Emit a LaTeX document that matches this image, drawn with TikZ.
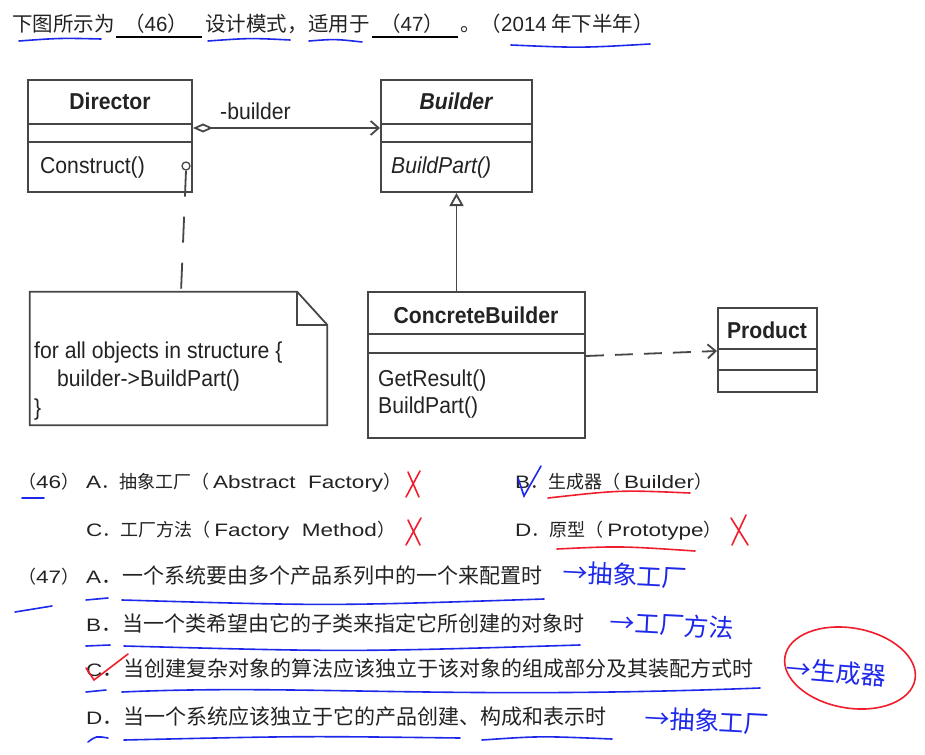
\documentclass[tikz,border=0pt]{standalone}
\usepackage{fontspec}
\setmainfont{Liberation Sans}
\newfontfamily\cjk{Noto Sans CJK SC}
\newfontfamily\umlfont[FakeStretch=0.92]{Liberation Sans}
\newfontfamily\optlat[FakeStretch=1.25]{Liberation Sans}
\definecolor{linegray}{RGB}{70,70,70}
\definecolor{txtgray}{RGB}{35,35,35}
\definecolor{penblue}{RGB}{30,40,235}
\definecolor{penred}{RGB}{240,30,45}
\newcommand{\zh}[1]{{\cjk #1}}
\newcommand{\zhbig}[1]{{\cjk\fontsize{21}{25}\selectfont #1}}
\usetikzlibrary{arrows.meta,positioning,calc}

\begin{document}
\begin{tikzpicture}[x=1pt,y=-1pt,
  uml_box/.style={draw=linegray, line width=2pt, fill=white, inner sep=0pt},
  uml_name/.style={font=\umlfont\fontsize{23}{27}\selectfont\bfseries, text=txtgray, anchor=base, inner sep=0pt},
  uml_op/.style={font=\umlfont\fontsize{23}{27}\selectfont, text=txtgray, anchor=base west, inner sep=0pt},
  uml_line/.style={draw=linegray, line width=1.8pt},
  title_txt/.style={font=\cjk\fontsize{20.5}{24}\selectfont, text=txtgray, anchor=base west, inner sep=0pt},
  opt_txt/.style={font=\optlat\fontsize{18}{21}\selectfont, text=txtgray, anchor=base west, inner sep=0pt},
  hand_txt/.style={font=\cjk\fontsize{25}{28}\selectfont, text=penblue, inner sep=0pt},
  pen_blue/.style={draw=penblue, line width=1.6pt, line cap=round},
  pen_red/.style={draw=penred, line width=1.6pt, line cap=round}
]
  \fill[white] (0,0) rectangle (925,754);
  \useasboundingbox (0,0) rectangle (925,754);

  %% question line
  \node[title_txt] (t_a) at (12,32) {下图所示为};
  \node[title_txt] (t_b) at (124,32) {（{\fontspec{Liberation Sans}46}）};
  \node[title_txt] (t_c) at (205,32) {设计模式，};
  \node[title_txt] (t_d) at (308,32) {适用于};
  \node[title_txt] (t_e) at (380,32) {（{\fontspec{Liberation Sans}47}）};
  \node[title_txt] (t_f) at (460,32) {。（{\fontspec{Liberation Sans}2014} 年下半年）};
  \draw[black, line width=2pt] (116,37) -- (202,37);
  \draw[black, line width=2pt] (372,37) -- (458,37);

  %% UML boxes
  \node[uml_box, minimum width=164pt, minimum height=112pt] (director) at (110,136) {};
  \node[uml_box, minimum width=151pt, minimum height=112pt] (builder) at (456.5,136) {};
  \node[uml_box, minimum width=217pt, minimum height=146pt] (concrete) at (476.5,365) {};
  \node[uml_box, minimum width=99pt, minimum height=84pt] (product) at (767.5,350) {};

  \draw[uml_line] ([yshift=-45pt]director.north west) -- ([yshift=-45pt]director.north east);
  \draw[uml_line] ([yshift=-63pt]director.north west) -- ([yshift=-63pt]director.north east);
  \draw[uml_line] ([yshift=-45pt]builder.north west) -- ([yshift=-45pt]builder.north east);
  \draw[uml_line] ([yshift=-63pt]builder.north west) -- ([yshift=-63pt]builder.north east);
  \draw[uml_line] ([yshift=-43pt]concrete.north west) -- ([yshift=-43pt]concrete.north east);
  \draw[uml_line] ([yshift=-62pt]concrete.north west) -- ([yshift=-62pt]concrete.north east);
  \draw[uml_line] ([yshift=-42pt]product.north west) -- ([yshift=-42pt]product.north east);
  \draw[uml_line] ([yshift=-63pt]product.north west) -- ([yshift=-63pt]product.north east);

  \node[uml_name] (director_name) at (110,110) {Director};
  \node[uml_op] (director_op) at (40,173) {Construct()};
  \node[uml_name] (builder_name) at (456,110) {\itshape Builder};
  \node[uml_op] (builder_op) at (391,173) {\itshape BuildPart()};
  \node[uml_name] (concrete_name) at (476,323) {ConcreteBuilder};
  \node[uml_op] (concrete_op1) at (378,386) {GetResult()};
  \node[uml_op] (concrete_op2) at (378,413) {BuildPart()};
  \node[uml_name] (product_name) at (767,338) {Product};

  %% note
  \node[minimum width=297pt, minimum height=133pt, inner sep=0pt] (note) at (178.5,358.5) {};
  \draw[uml_line, fill=white] (note.south west) -- (note.north west) -- ([xshift=-30pt]note.north east)
    -- ([yshift=-33pt]note.north east) -- (note.south east) -- cycle;
  \draw[uml_line] ([xshift=-30pt]note.north east) |- ([yshift=-33pt]note.north east);
  \node[uml_op] (note_l1) at (34,358) {for all objects in structure \{};
  \node[uml_op] (note_l2) at (57,386) {builder->BuildPart()};
  \node[uml_op] (note_l3) at (34,415) {\}};

  %% connectors
  \draw[uml_line, {Diamond[open,length=20pt,width=9pt]}-{Straight Barb[length=8pt,width=14pt]}]
    ([yshift=-49pt]director.north east) -- ([yshift=-49pt]builder.north west);
  \node[uml_op] (agg_label) at (220,120) {-builder};
  \draw[uml_line, -{Triangle[open,length=13pt,width=14pt]}] (builder.south |- concrete.north) -- (builder.south);
  \draw[uml_line, dash pattern=on 18pt off 11pt, -{Straight Barb[length=8pt,width=14pt]}]
    ([yshift=-65pt]concrete.north east) -- ([yshift=-44pt]product.north west);
  \node[circle, draw=linegray, line width=1.3pt, minimum size=8pt, inner sep=0pt] (note_pin) at (186,166) {};
  \draw[uml_line, dash pattern=on 26pt off 20pt] (note_pin.south) -- (note.north -| 181,0);

  %% options (46)
  \node[opt_txt] (q46) at (18,488) {\zh{（}46\zh{）}};
  \node[opt_txt] (q46_a) at (86,488) {A\zh{．抽象工厂（}\hspace{4pt}Abstract\ \ Factory\zh{）}};
  \node[opt_txt] (q46_b) at (515,488) {B\zh{．生成器（}\hspace{4pt}Builder\zh{）}};
  \node[opt_txt] (q46_c) at (86,536) {C\zh{．工厂方法（}\hspace{4pt}Factory\ \ Method\zh{）}};
  \node[opt_txt] (q46_d) at (515,536) {D\zh{．原型（}\hspace{4pt}Prototype\zh{）}};

  %% options (47)
  \node[opt_txt] (q47) at (18,583) {\zh{（}47\zh{）}};
  \node[opt_txt] (q47_a) at (86,583) {A\zhbig{．一个系统要由多个产品系列中的一个来配置时}};
  \node[opt_txt] (q47_b) at (86,631) {B\zhbig{．当一个类希望由它的子类来指定它所创建的对象时}};
  \node[opt_txt] (q47_c) at (86,676) {C\zhbig{．当创建复杂对象的算法应该独立于该对象的组成部分及其装配方式时}};
  \node[opt_txt] (q47_d) at (86,724) {D\zhbig{．当一个系统应该独立于它的产品创建、构成和表示时}};

  %% handwritten notes
  \node[hand_txt, rotate=-3] (h_a) at (625,575) {→抽象工厂};
  \node[hand_txt, rotate=-3] (h_b) at (672,625) {→工厂方法};
  \node[hand_txt, rotate=-5] (h_c) at (836,672) {→生成器};
  \node[hand_txt, rotate=-3] (h_d) at (707,721) {→抽象工厂};
  \draw[pen_red, rotate around={-10:(850,668)}] (850,668) ellipse [x radius=66, y radius=40];

  %% blue underlines
  \draw[pen_blue] (19,41) .. controls (60,38) .. (101,39);
  \draw[pen_blue] (208,41) .. controls (250,38) .. (290,40);
  \draw[pen_blue] (309,41) .. controls (335,39) .. (362,42);
  \draw[pen_blue] (511,45) .. controls (580,48) .. (650,44);
  \draw[pen_blue] (22,498) -- (44,498);
  \draw[pen_blue] (86,600) -- (108,598);
  \draw[pen_blue] (122,600) .. controls (330,606) .. (544,599);
  \draw[pen_blue] (15,612) -- (52,606);
  \draw[pen_blue] (86,646) -- (110,645);
  \draw[pen_blue] (124,646) .. controls (350,652) .. (580,645);
  \draw[pen_blue] (86,692) -- (106,690);
  \draw[pen_blue] (122,692) .. controls (300,684) and (450,700) .. (760,688);
  \draw[pen_blue] (88,742) .. controls (96,736) .. (108,738);
  \draw[pen_blue] (124,740) .. controls (300,736) .. (460,738);
  \draw[pen_blue] (482,740) .. controls (540,736) .. (612,739);
  \draw[pen_blue] (518,478) -- (524,496) -- (541,466);

  %% red marks
  \draw[pen_red] (408,472) -- (419,497);
  \draw[pen_red] (420,471) -- (406,497);
  \draw[pen_red] (408,520) -- (420,545);
  \draw[pen_red] (421,518) -- (406,545);
  \draw[pen_red] (731,518) -- (748,545);
  \draw[pen_red] (746,515) -- (732,545);
  \draw[pen_red] (548,498) .. controls (620,490) .. (690,493);
  \draw[pen_red] (557,549) .. controls (620,546) .. (695,551);
  \draw[pen_red] (86,668) -- (94,680) -- (128,654);
\end{tikzpicture}
\end{document}
